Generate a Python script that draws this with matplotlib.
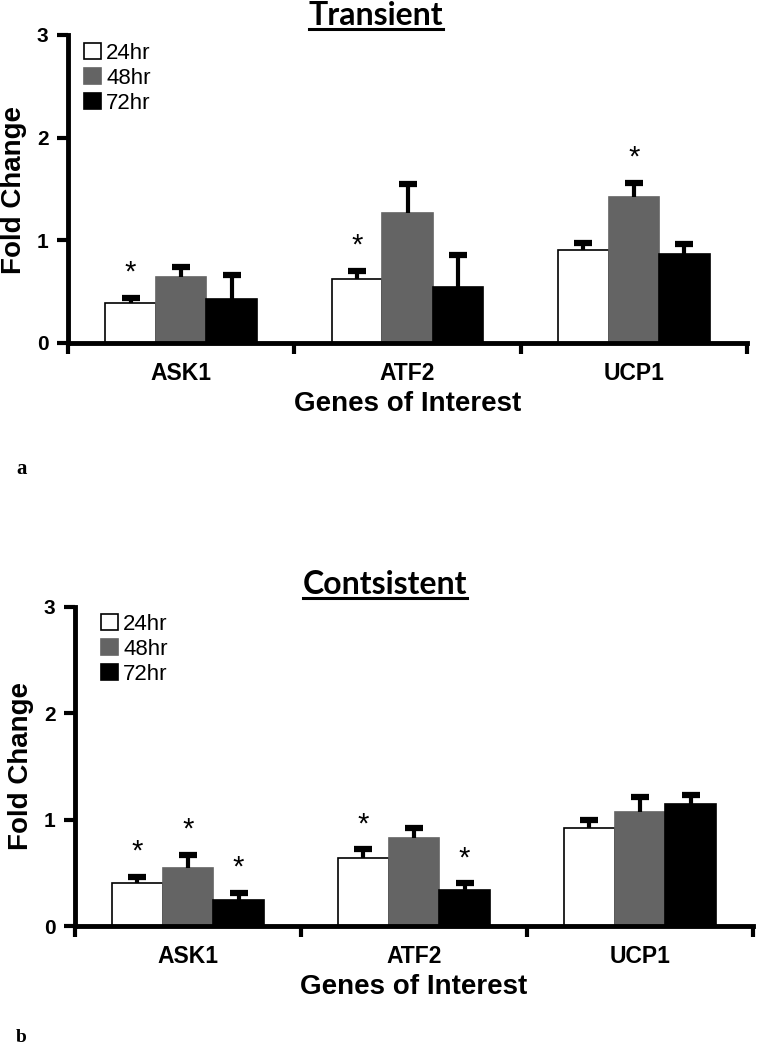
import numpy as np
import matplotlib
matplotlib.use("Agg")
import matplotlib.pyplot as plt
from matplotlib.lines import Line2D
from matplotlib.patches import Patch

plt.rcParams['font.family'] = ['Liberation Sans', 'DejaVu Sans']

genes = ['ASK1', 'ATF2', 'UCP1']
times = ['24hr', '48hr', '72hr']

# transient (panel a)
trans_vals = [[0.39, 0.62, 0.91],   # 24hr
              [0.64, 1.27, 1.42],   # 48hr
              [0.43, 0.55, 0.87]]   # 72hr
trans_err = [[0.05, 0.08, 0.06],
             [0.10, 0.28, 0.14],
             [0.23, 0.31, 0.09]]
trans_star = [[True, True, False],
              [False, False, True],
              [False, False, False]]

# consistent (panel b)
cons_vals = [[0.40, 0.64, 0.92],
             [0.55, 0.83, 1.07],
             [0.245, 0.34, 1.15]]
cons_err = [[0.06, 0.08, 0.08],
            [0.12, 0.09, 0.14],
            [0.065, 0.06, 0.08]]
cons_star = [[True, True, False],
             [True, False, False],
             [True, True, False]]

colors = ['white', '#646464', 'black']
W, H = 758, 1050

fig = plt.figure(figsize=(W / 100, H / 100), dpi=100)


def px_axes(left, top, right, bottom):
    return fig.add_axes([left / W, 1 - bottom / H, (right - left) / W, (bottom - top) / H])


def draw_panel(ax, vals, errs, stars):
    bw = 0.2235
    x = np.arange(len(genes))
    for k in range(3):
        xs = x + (k - 1) * bw
        v = np.array(vals[k])
        e = np.array(errs[k])
        ec = 'black' if k == 0 else colors[k]
        ax.bar(xs, v, bw, color=colors[k], edgecolor=ec, linewidth=1.2,
               label=times[k], zorder=2)
        # upper error bar only
        ax.vlines(xs, v, v + e, color='black', linewidth=3, zorder=3)
        ax.plot(xs, v + e, ls='none', marker='_', ms=13, mew=4.5, color='black', zorder=3)
        for i in range(3):
            if stars[k][i]:
                ax.annotate('*', (xs[i], v[i] + e[i]), xytext=(0, 8),
                            textcoords='offset points', ha='center', va='bottom',
                            fontsize=21)
    ax.set_xlim(-0.5, 2.5)
    ax.set_ylim(0, 3)
    ax.set_yticks([0, 1, 2, 3])
    ax.set_xticks(x)
    ax.set_xticklabels(genes, fontsize=16.5, fontweight='bold')
    ax.set_xticks([-0.5, 0.5, 1.5, 2.5], minor=True)
    ax.tick_params(axis='x', which='major', length=0, pad=14)
    ax.tick_params(axis='x', which='minor', length=8, width=3, direction='out')
    ax.tick_params(axis='y', length=8, width=3, pad=6, labelsize=15)
    for t in ax.get_yticklabels():
        t.set_fontweight('bold')
    for s in ['top', 'right']:
        ax.spines[s].set_visible(False)
    for s in ['left', 'bottom']:
        ax.spines[s].set_linewidth(3.5)
    ax.set_xlabel('Genes of Interest', fontsize=20, fontweight='bold', labelpad=4)
    ax.patch.set_alpha(0)


ax1 = px_axes(68, 35, 747, 343)
draw_panel(ax1, trans_vals, trans_err, trans_star)
ax2 = px_axes(75, 607, 753, 926)
draw_panel(ax2, cons_vals, cons_err, cons_star)

for ax, lx, ly in [(ax1, 84, 43), (ax2, 101, 614)]:
    handles = [Patch(facecolor=colors[k], edgecolor='black' if k == 0 else colors[k],
                     linewidth=1.2) for k in range(3)]
    ax.legend(handles, times, loc='upper left', bbox_to_anchor=(lx / W, 1 - ly / H),
              bbox_transform=fig.transFigure, frameon=False, fontsize=16,
              handlelength=0.75, handleheight=0.75, handletextpad=0.25,
              labelspacing=0.18, borderpad=0, borderaxespad=0)

fig.text(14 / W, 1 - 190 / H, 'Fold Change', rotation=90, ha='center', va='center',
         fontsize=20, fontweight='bold')
fig.text(21 / W, 1 - 766 / H, 'Fold Change', rotation=90, ha='center', va='center',
         fontsize=20, fontweight='bold')

titles = []
for label, cx, base in [('Transient', 376, 25), ('Contsistent', 385, 594)]:
    t = fig.text(cx / W, 1 - base / H, label, ha='center', va='baseline',
                 fontsize=23, fontweight='bold', family=['Lato', 'DejaVu Sans'])
    titles.append((t, base))

fig.text(16 / W, 1 - 469 / H, 'a', ha='left', va='center', fontsize=15,
         fontweight='bold', family=['Liberation Serif'])
fig.text(16 / W, 1 - 1038 / H, 'b', ha='left', va='center', fontsize=14,
         fontweight='bold', family=['Liberation Serif'])

fig.canvas.draw()
r = fig.canvas.get_renderer()
for t, base in titles:
    bb = t.get_window_extent(r)
    yy = 1 - (base + 4) / H
    fig.add_artist(Line2D([bb.x0 / W, bb.x1 / W], [yy, yy], color='black', linewidth=2.2))

fig.savefig('out.png', dpi=100)
